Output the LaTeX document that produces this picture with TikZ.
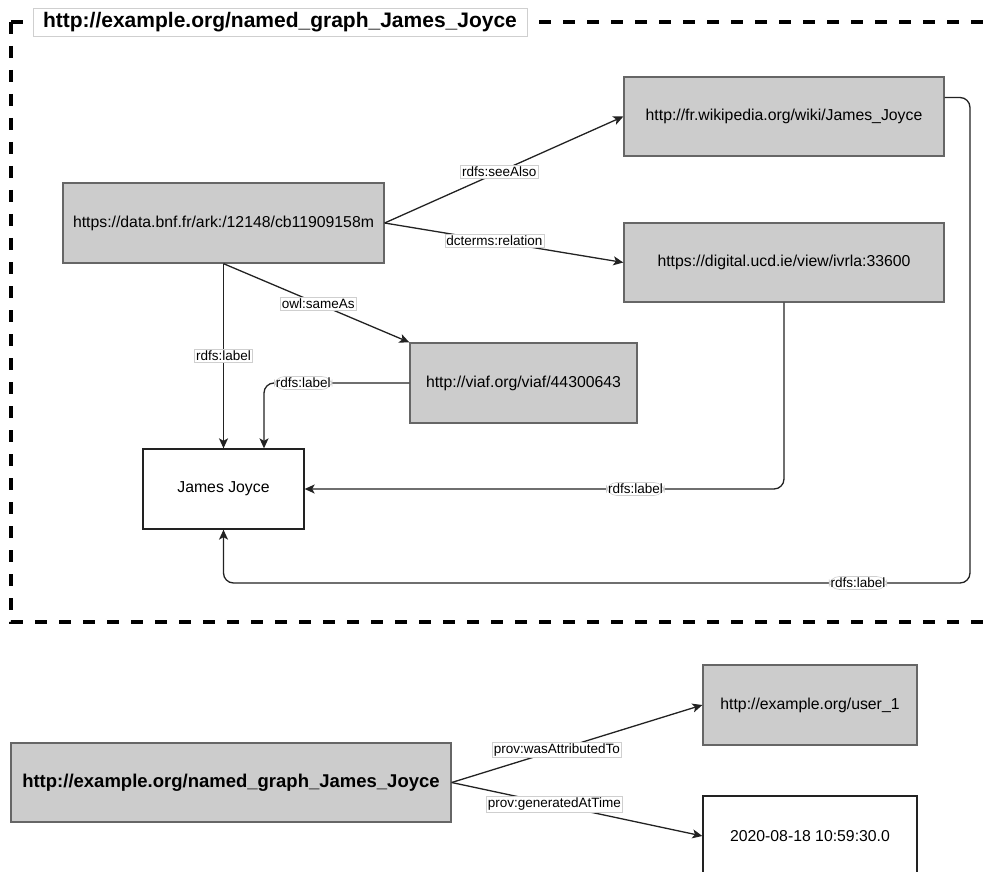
\documentclass[tikz,border=0pt]{standalone}
\usepackage{fontspec}
\setmainfont{Liberation Sans}
\usetikzlibrary{arrows.meta}

\definecolor{boxfill}{HTML}{CCCCCC}
\definecolor{boxline}{HTML}{666666}
\definecolor{edgecol}{HTML}{222222}
\definecolor{lblline}{HTML}{CFCFCF}

\tikzset{
  resnode/.style={rectangle, fill=boxfill, draw=boxline, line width=1.3pt,
    inner sep=0pt, font=\fontsize{15.8}{18}\selectfont},
  litnode/.style={rectangle, fill=white, draw=edgecol, line width=1.3pt,
    inner sep=0pt, font=\fontsize{15.8}{18}\selectfont},
  edge/.style={draw=edgecol, line width=1.3pt,
    -{Stealth[length=10pt, width=9pt, inset=2.5pt]}},
  lbl/.style={fill=white, draw=lblline, line width=0.6pt, inner xsep=1.5pt,
    inner ysep=1.5pt, font=\fontsize{13.5}{15}\selectfont, text=black},
  frame/.style={draw=black, line width=4pt, dash pattern=on 12pt off 12pt},
}

\begin{document}
\begin{tikzpicture}[x=1pt, y=-1pt]
\useasboundingbox (0,0) rectangle (989,872);

% named graph frame
\draw[frame] (11,22) -- (1010,22);
\draw[frame] (11,22) -- (11,622) -- (1010,622);
\node[fill=white, draw=lblline, line width=0.6pt, minimum width=494pt,
  minimum height=28pt, inner sep=0pt,
  font=\fontsize{21}{24}\bfseries\selectfont] (title) at (280,22.5)
  {http://example.org/named\_graph\_James\_Joyce};

% resources and literals inside the graph
\node[resnode, minimum width=321pt, minimum height=80pt] (bnf) at (223.5,223)
  {https://data.bnf.fr/ark:/12148/cb11909158m};
\node[resnode, minimum width=320pt, minimum height=79pt] (wiki) at (784,116.5)
  {http://fr.wikipedia.org/wiki/James\_Joyce};
\node[resnode, minimum width=320pt, minimum height=79pt] (ucd) at (784,262.5)
  {https://digital.ucd.ie/view/ivrla:33600};
\node[resnode, minimum width=227pt, minimum height=80pt] (viaf) at (523.5,383)
  {http://viaf.org/viaf/44300643};
\node[litnode, minimum width=161pt, minimum height=80pt] (jj) at (223.5,489)
  {James Joyce};

% helper points for the routed connectors
\coordinate (jjn) at ([xshift=40.5pt]jj.north);
\coordinate (wo) at ([yshift=19pt]wiki.east);
\coordinate (wr) at (970,583);

% straight connectors from the BnF record
\draw[edge] (bnf.east) -- node[lbl, pos=0.48] {rdfs:seeAlso} (wiki.west);
\draw[edge] (bnf.east) -- node[lbl, pos=0.46] {dcterms:relation} (ucd.west);
\draw[edge] (bnf.south) -- node[lbl, pos=0.51] {owl:sameAs} (viaf.north west);
\draw[edge] (bnf.south) -- node[lbl, pos=0.5] {rdfs:label} (jj.north);

% routed label connectors
\draw[edge, rounded corners=10pt] (viaf.west)
  -- node[lbl, pos=0.73] {rdfs:label} (viaf.west -| jjn) -- (jjn);
\draw[edge, rounded corners=10pt] (ucd.south) -- (ucd.south |- jj.east)
  -- node[lbl, pos=0.31] {rdfs:label} (jj.east);
\draw[edge, rounded corners=10pt] (wo) -- (wo -| wr) -- (wr)
  -- node[lbl, pos=0.15] {rdfs:label} (wr -| jj.south) -- (jj.south);

% provenance of the named graph
\node[resnode, minimum width=440pt, minimum height=79pt,
  font=\fontsize{18.5}{21}\bfseries\selectfont] (ng) at (231,782.5)
  {http://example.org/named\_graph\_James\_Joyce};
\node[resnode, minimum width=214pt, minimum height=80pt] (user) at (810,705)
  {http://example.org/user\_1};
\node[litnode, minimum width=214pt, minimum height=80pt] (date) at (810,836)
  {2020-08-18 10:59:30.0};

\draw[edge] (ng.east) -- node[lbl, pos=0.42] {prov:wasAttributedTo} (user.west);
\draw[edge] (ng.east) -- node[lbl, pos=0.41] {prov:generatedAtTime} (date.west);
\end{tikzpicture}
\end{document}
